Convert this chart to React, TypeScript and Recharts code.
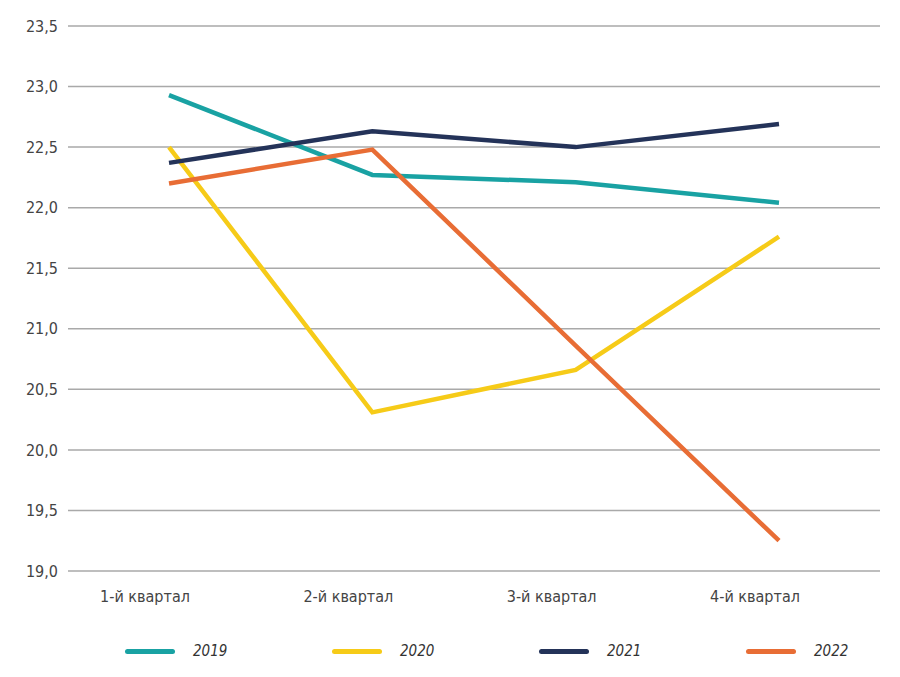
import React from 'react';
import { LineChart, Line, XAxis, YAxis, CartesianGrid } from 'recharts';

const quarters = ['1-й квартал', '2-й квартал', '3-й квартал', '4-й квартал'];
const values2019 = [22.93, 22.27, 22.21, 22.04];
const values2020 = [22.5, 20.31, 20.66, 21.76];
const values2021 = [22.37, 22.63, 22.5, 22.69];
const values2022 = [22.2, 22.48, 20.86, 19.25];
const yTicks = [19, 19.5, 20, 20.5, 21, 21.5, 22, 22.5, 23, 23.5];

const series = [
  { key: '2019', values: values2019, color: '#19a2a3' },
  { key: '2020', values: values2020, color: '#f6cb18' },
  { key: '2021', values: values2021, color: '#243359' },
  { key: '2022', values: values2022, color: '#e86d35' },
];

const data = quarters.map((q, i) => {
  const row: Record<string, string | number> = { quarter: q };
  series.forEach(s => { row[s.key] = s.values[i]; });
  return row;
});

const font = '"DejaVu Sans Condensed", "Liberation Sans Narrow", "Noto Sans", sans-serif';
const fmt = (v: number) => v.toFixed(1).replace('.', ',');

export default function App() {
  return (
    <div style={{ position: 'absolute', left: 0, top: 0, width: 900, height: 677, background: '#fff', fontFamily: font }}>
      <LineChart width={900} height={677} data={data} margin={{ top: 26, right: 20, bottom: 66, left: 0 }}>
        <CartesianGrid vertical={false} stroke="#a9a9a9" strokeWidth={1.5} />
        <XAxis
          dataKey="quarter"
          axisLine={false}
          tickLine={false}
          tickSize={0}
          tickMargin={20}
          height={40}
          dx={-24}
          padding={{ left: 101, right: 101 }}
          tick={{ fill: '#444', fontSize: 16, fontFamily: font }}
        />
        <YAxis
          type="number"
          domain={[19, 23.5]}
          ticks={yTicks}
          width={68}
          axisLine={false}
          tickLine={false}
          tickSize={0}
          tickMargin={10}
          tickFormatter={fmt}
          tick={{ fill: '#444', fontSize: 16, fontFamily: font }}
        />
        {series.map(s => (
          <Line
            key={s.key}
            type="linear"
            dataKey={s.key}
            stroke={s.color}
            strokeWidth={4.5}
            dot={false}
            activeDot={false}
            isAnimationActive={false}
          />
        ))}
      </LineChart>
      {series.map((s, i) => (
        <div key={s.key} style={{ position: 'absolute', left: 125 + i * 207, top: 640, display: 'flex', alignItems: 'center', height: 22 }}>
          <div style={{ width: 50, height: 5, borderRadius: 3, background: s.color }} />
          <span style={{ marginLeft: 18, fontStyle: 'italic', fontSize: 15, color: '#333' }}>{s.key}</span>
        </div>
      ))}
    </div>
  );
}
